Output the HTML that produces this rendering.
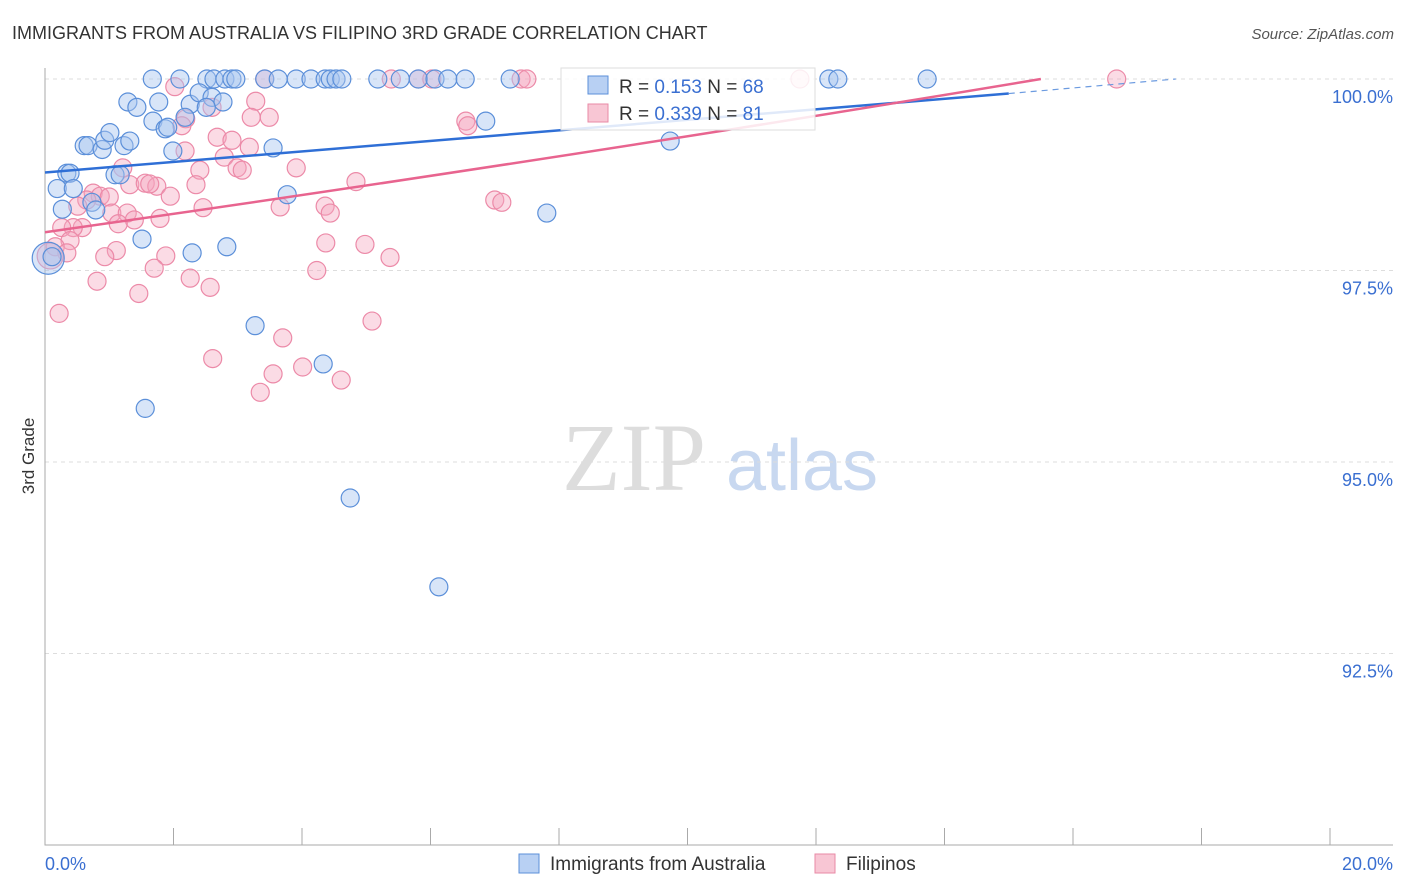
<!DOCTYPE html>
<html><head><meta charset="utf-8"><style>
body{margin:0;background:#fff;font-family:"Liberation Sans",sans-serif}
svg{display:block}
</style></head><body>
<svg id="c" width="1406" height="892">
<text x="12" y="39" font-size="18" fill="#333">IMMIGRANTS FROM AUSTRALIA VS FILIPINO 3RD GRADE CORRELATION CHART</text>
<text x="1394" y="39" font-size="15" fill="#555" font-style="italic" text-anchor="end">Source: ZipAtlas.com</text>
<text x="34" y="456" font-size="17" fill="#333" transform="rotate(-90 34 456)" text-anchor="middle">3rd Grade</text>
<g><text x="634" y="490" font-size="96" fill="#ddd" font-family="Liberation Serif" text-anchor="middle">ZIP</text><text x="802" y="490" font-size="72" fill="#c8d8f0" text-anchor="middle">atlas</text></g>
<g id="grid"></g><g id="axes"></g><g id="pts"></g><g id="lines"></g>
<g>
<rect x="561" y="68" width="254" height="62" fill="#fff" fill-opacity="0.85" stroke="#ddd"/>
<rect x="588" y="76" width="20" height="18" fill="#b8d0f3" stroke="#5b8fd9"/>
<text x="619" y="93" font-size="19" fill="#333">R = <tspan fill="#3a6fd1">0.153</tspan>   N = <tspan fill="#3a6fd1">68</tspan></text>
<rect x="588" y="104" width="20" height="18" fill="#f8c6d4" stroke="#e88aa6"/>
<text x="619" y="120" font-size="19" fill="#333">R = <tspan fill="#3a6fd1">0.339</tspan>   N = <tspan fill="#3a6fd1">81</tspan></text>
</g>
<g>
<rect x="519" y="854" width="20" height="19" fill="#b8d0f3" stroke="#5b8fd9"/>
<text x="550" y="870" font-size="19" fill="#333">Immigrants from Australia</text>
<rect x="815" y="854" width="20" height="19" fill="#f8c6d4" stroke="#e88aa6"/>
<text x="846" y="870" font-size="19" fill="#333">Filipinos</text>
</g>
</svg>
<script>
const blueX=[1.67,2.1,2.52,2.63,2.8,2.91,2.97,3.42,3.63,3.91,4.14,4.36,4.44,4.53,4.62,5.18,5.53,5.81,6.07,6.27,6.54,7.24,12.2,12.34,13.73,1.29,1.43,1.77,2.26,2.4,2.6,2.77,2.51,1.68,1.87,1.91,2.18,1.99,0.61,0.67,0.89,0.93,1.01,1.23,1.32,0.34,0.39,1.09,1.17,0.19,0.44,0.73,0.79,0.27,3.55,3.77,6.86,9.73,7.81,1.51,2.29,2.83,3.27,4.33,1.56,4.75,6.13,0.05,0.11];
const blueY=[100,100,100,100,100,100,100,100,100,100,100,100,100,100,100,100,100,100,100,100,100,100,100,100,100,99.7,99.63,99.7,99.67,99.82,99.76,99.7,99.63,99.45,99.35,99.37,99.5,99.06,99.13,99.13,99.08,99.2,99.3,99.13,99.19,98.77,98.77,98.75,98.75,98.57,98.57,98.39,98.29,98.3,99.1,98.49,99.45,99.19,98.25,97.91,97.73,97.81,96.78,96.28,95.7,94.53,93.37,97.66,97.68];
const pinkX=[3.42,5.39,5.81,6.02,7.41,7.5,11.75,16.68,2.02,3.28,2.6,3.21,3.49,2.19,2.13,6.55,6.58,2.68,2.91,3.18,2.18,2.79,2.99,3.07,3.91,2.41,1.21,1.32,1.56,1.74,1.63,2.35,0.75,0.86,1.0,0.65,0.51,1.95,4.84,7.0,7.11,4.36,4.44,3.66,2.46,1.04,1.28,1.39,1.79,1.14,0.58,0.44,0.26,0.39,0.16,0.34,1.11,0.93,1.88,1.7,4.37,4.98,5.37,4.23,2.26,2.57,0.81,1.46,5.09,3.7,2.61,4.01,3.55,4.61,3.35,0.22,0.08];
const pinkY=[100,100,100,100,100,100,100,100,99.9,99.71,99.63,99.5,99.5,99.48,99.39,99.45,99.39,99.24,99.2,99.11,99.06,98.98,98.84,98.81,98.84,98.81,98.84,98.62,98.64,98.6,98.63,98.62,98.51,98.47,98.46,98.42,98.34,98.47,98.66,98.42,98.39,98.34,98.25,98.33,98.32,98.25,98.25,98.16,98.18,98.11,98.06,98.06,98.06,97.89,97.81,97.73,97.76,97.68,97.69,97.53,97.86,97.84,97.67,97.5,97.4,97.28,97.36,97.2,96.84,96.62,96.35,96.24,96.15,96.07,95.91,96.94,97.69];
const X=v=>45+v*64.25, Y=v=>79+(100-v)*76.6;
const NS="http://www.w3.org/2000/svg";
function mk(t,a,p){const e=document.createElementNS(NS,t);for(const k in a)e.setAttribute(k,a[k]);p.appendChild(e);return e;}
const grid=document.getElementById('grid'),axes=document.getElementById('axes');
const yTicks=[100,97.5,95,92.5], yLabels=["100.0%","97.5%","95.0%","92.5%"];
yTicks.forEach((t,i)=>{
 const l=mk('line',{x1:45,x2:1393,y1:Y(t),y2:Y(t),stroke:'#ddd','stroke-dasharray':'4,4'},grid);
 
 
 const tx=mk('text',{x:1393,y:Y(t)+24,'font-size':18,fill:'#3a6fd1','text-anchor':'end'},axes);
 tx.textContent=yLabels[i];
 
 
});
const ax=mk('path',{d:'M45 68V845H1393',stroke:'#aaa',fill:'none'},axes);


for(let i=1;i<=10;i++){const t=mk('line',{x1:X(i*2),x2:X(i*2),y1:828,y2:845,stroke:'#aaa'},axes);
 
 }
const xl=[["0.0%",45,'start'],["20.0%",1393,'end']];
xl.forEach(a=>{const t=mk('text',{x:a[1],y:870,'font-size':18,fill:'#3a6fd1','text-anchor':a[2]},axes);t.textContent=a[0];
 
 });
const pts=document.getElementById('pts');
pinkX.forEach((v,i)=>{const c=mk('circle',{cx:X(v),cy:Y(pinkY[i]),r:i==pinkX.length-1?13:9,fill:'#f4a6bd','fill-opacity':0.4,stroke:'#ec8aa8','stroke-width':1.2},pts);
 
 });
blueX.forEach((v,i)=>{const c=mk('circle',{cx:X(v),cy:Y(blueY[i]),r:i==blueX.length-2?16:9,fill:'#a9c6ef','fill-opacity':0.45,stroke:'#5b8fd9','stroke-width':1.2},pts);
 
 });
const L=document.getElementById('lines');
let e=mk('line',{x1:X(0),y1:Y(98.78),x2:X(15.0),y2:Y(99.81),stroke:'#2f6fd6','stroke-width':2.5},L);


e=mk('line',{x1:X(15.0),y1:Y(99.81),x2:X(17.6),y2:Y(100),stroke:'#6c9be0','stroke-width':1.2,'stroke-dasharray':'6,5'},L);


e=mk('path',{d:`M${X(0)} ${Y(98.0)} Q${X(8)} ${Y(98.95)} ${X(15.5)} ${Y(100)}`,stroke:'#e8648f','stroke-width':2.5,fill:'none'},L);


</script>
</body></html>
